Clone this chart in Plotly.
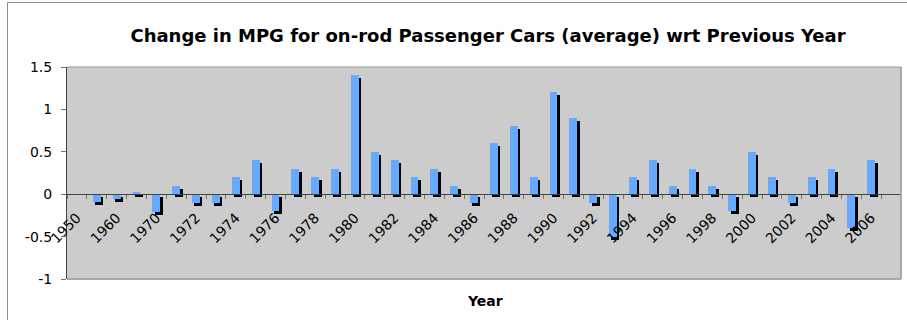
import plotly.graph_objects as go

# Model years on the category axis (two five-year steps before 1970)
years = ["1950", "1955", "1960", "1965"] + [str(y) for y in range(1970, 2008)]

# Change in average MPG with respect to the previous entry
mpg_change = [
    None, -0.09, -0.06, 0.03,
    -0.21, 0.1, -0.1, -0.1, 0.2, 0.4, -0.2, 0.3, 0.2, 0.3,
    1.4, 0.5, 0.4, 0.2, 0.3, 0.1, -0.1, 0.6, 0.8, 0.2,
    1.2, 0.9, -0.1, -0.5, 0.2, 0.4, 0.1, 0.3, 0.1, -0.2,
    0.5, 0.2, -0.1, 0.2, 0.3, -0.4, 0.4, None,
]

# Every other year carries a label
tick_text = [y if i % 2 == 0 else "" for i, y in enumerate(years)]

y_ticks = [-1, -0.5, 0, 0.5, 1, 1.5]
y_tick_text = ["-1", "-0.5", "0", "0.5", "1", "1.5"]

W, H = 907, 320
L, R, T, B = 67, 6, 67, 41
pw, ph = W - L - R, H - T - B
y_min, y_max = -1, 1.5

FONT = "DejaVu Sans, Verdana, sans-serif"
BAR_W = 0.4
SHADOW_DY = 3 * (y_max - y_min) / ph   # shadow drop in data units (~3 px)

fig = go.Figure()

# Drop shadow behind each bar
fig.add_trace(go.Bar(
    x=years, y=mpg_change, base=-SHADOW_DY,
    width=BAR_W, offset=-BAR_W / 2 + 0.12,
    marker=dict(color="#000000", line=dict(width=0)),
    hoverinfo="skip", showlegend=False,
))
# Main bars
fig.add_trace(go.Bar(
    x=years, y=mpg_change,
    width=BAR_W, offset=-BAR_W / 2,
    marker=dict(color="#66aaff", line=dict(width=0)),
    showlegend=False,
))


def px_x(p):
    return (p - L) / pw


def px_y(p):
    return (H - B - p) / ph


shapes = [
    # plot area frame
    dict(type="line", xref="paper", yref="paper", x0=0, x1=1, y0=1, y1=1,
         line=dict(color="#9a9a9a", width=1)),
    dict(type="line", xref="paper", yref="paper", x0=1, x1=1, y0=0, y1=1,
         line=dict(color="#a8a8a8", width=2)),
    dict(type="line", xref="paper", yref="paper", x0=0, x1=1, y0=0, y1=0,
         line=dict(color="#a8a8a8", width=2)),
    # chart area frame
    dict(type="line", xref="paper", yref="paper",
         x0=px_x(7.5), x1=px_x(W + 5), y0=px_y(2.5), y1=px_y(2.5),
         line=dict(color="#8c8c8c", width=1)),
    dict(type="line", xref="paper", yref="paper",
         x0=px_x(7.5), x1=px_x(7.5), y0=px_y(2.5), y1=px_y(H + 5),
         line=dict(color="#8c8c8c", width=1)),
]

fig.update_layout(
    width=W, height=H,
    margin=dict(l=L, r=R, t=T, b=B, pad=0),
    paper_bgcolor="#ffffff",
    plot_bgcolor="#cccccc",
    barmode="overlay",
    bargap=0,
    font=dict(family=FONT, size=14, color="#000000"),
    title=dict(
        text="<b>Change in MPG for on-rod Passenger Cars (average) wrt Previous Year</b>",
        x=px_x(488), xref="paper", xanchor="center",
        y=1 - 36 / H, yref="container", yanchor="middle",
        font=dict(family=FONT, size=18, color="#000000"),
    ),
    xaxis=dict(
        type="category",
        tickmode="array", tickvals=years, ticktext=tick_text,
        tickangle=-45, tickson="boundaries",
        ticks="outside", ticklen=4, tickcolor="#777777",
        showline=True, linecolor="#444444", linewidth=1,
        showgrid=False, zeroline=False,
        anchor="free", position=(0 - y_min) / (y_max - y_min),
        tickfont=dict(family=FONT, size=14, color="#000000"),
        ticklabelstandoff=9,
        range=[-0.5, len(years) - 0.5],
    ),
    yaxis=dict(
        range=[y_min, y_max],
        tickmode="array", tickvals=y_ticks, ticktext=y_tick_text,
        ticks="outside", ticklen=5, tickcolor="#777777",
        showline=True, linecolor="#444444", linewidth=1,
        showgrid=False, zeroline=False,
        tickfont=dict(family=FONT, size=14, color="#000000"),
        ticklabelstandoff=6,
    ),
    shapes=shapes,
    annotations=[dict(
        text="<b>Year</b>", xref="paper", yref="paper",
        x=px_x(485), y=px_y(301), xanchor="center", yanchor="middle",
        showarrow=False, font=dict(family=FONT, size=14, color="#000000"),
    )],
)

fig.write_html("out.html")
